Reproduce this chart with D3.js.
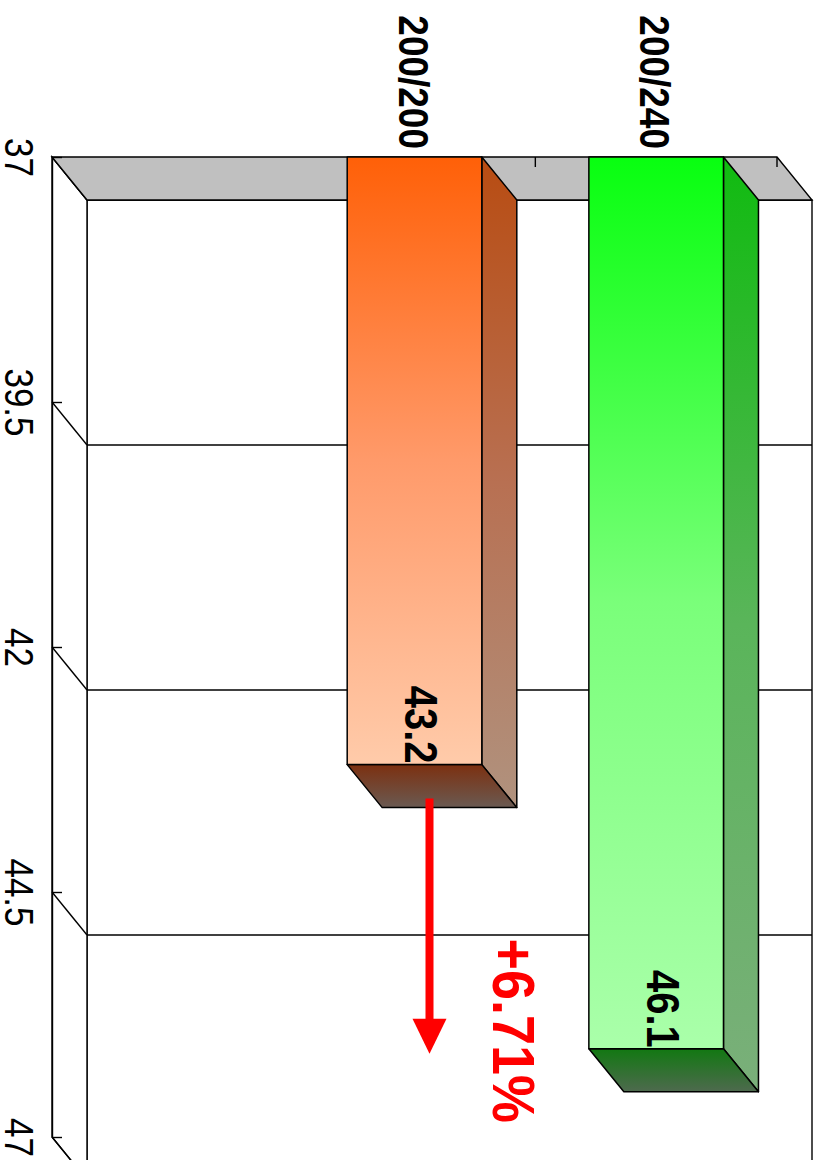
<!DOCTYPE html>
<html>
<head>
<meta charset="utf-8">
<script src="https://cdn.jsdelivr.net/npm/d3@7"></script>
<style>
  html, body { margin: 0; padding: 0; background: #fff; }
  svg { display: block; }
  text { font-family: "Liberation Sans", Arial, Helvetica, sans-serif; }
</style>
</head>
<body>
<svg id="chart" width="821" height="1160"></svg>
<script>
// Data
const categories = ["", "200/200", "200/240"];
const values = [null, 43.2, 46.1];
const valueTicks = [37, 39.5, 42, 44.5, 47];
const valueDomain = [37, 47];

// Bar palettes: [front top, front mid, front bottom], [side top, side mid, side bottom], [cap near, cap far]
const palettes = [
  null,
  { front: ["#ff6008", "#ff9a6a", "#ffcbaa"], side: ["#b84c12", "#b87052", "#b0927e"], cap: ["#7c3010", "#6a5a52"] },
  { front: ["#08ff10", "#7aff7a", "#aaffaa"], side: ["#10bb10", "#5ab55a", "#7aaf7a"], cap: ["#127812", "#4e6a4e"] }
];

const svg = d3.select("#chart");
const defs = svg.append("defs");

// Oblique depth of the 3D frame
const dx = 35, dy = 43;

const y = d3.scaleLinear().domain(valueDomain).range([157, 1137]);
const x = d3.scaleBand().domain(categories).range([52, 777]);
const barW = x.bandwidth() * 0.557;

const xL = x.range()[0], xR = x.range()[1];
const yTop = y(valueDomain[0]), yBot = y(valueDomain[1]);

const frame = svg.append("g").attr("fill", "none").attr("stroke", "#000").attr("stroke-width", 1.4);

// Back wall
frame.append("rect")
  .attr("x", xL + dx).attr("y", yTop + dy)
  .attr("width", xR - xL).attr("height", yBot - yTop + 10)
  .attr("fill", "#fff");

// Side wall
frame.append("polygon")
  .attr("points", [[xL, yTop], [xL + dx, yTop + dy], [xL + dx, yBot + dy], [xL, yBot]].join(" "))
  .attr("fill", "#fff");

// Gridlines on the back wall and diagonals on the side wall
frame.selectAll("line.grid").data(valueTicks).join("line")
  .attr("class", "grid")
  .attr("x1", xL + dx).attr("x2", xR + dx)
  .attr("y1", d => y(d) + dy).attr("y2", d => y(d) + dy);
frame.selectAll("line.diag").data(valueTicks).join("line")
  .attr("class", "diag")
  .attr("x1", xL).attr("x2", xL + dx)
  .attr("y1", d => y(d)).attr("y2", d => y(d) + dy);

// Base floor
frame.append("polygon")
  .attr("points", [[xL, yTop], [xR, yTop], [xR + dx, yTop + dy], [xL + dx, yTop + dy]].join(" "))
  .attr("fill", "#c0c0c0");

// Category ticks along the near floor edge
frame.selectAll("line.ctick").data(categories.filter(c => c !== "")).join("line")
  .attr("class", "ctick")
  .attr("x1", d => x(d) + x.bandwidth()).attr("x2", d => x(d) + x.bandwidth())
  .attr("y1", yTop).attr("y2", yTop + 10);

// Value axis
const axis = svg.append("g")
  .attr("transform", `translate(${xL},0)`)
  .call(d3.axisLeft(y).tickValues(valueTicks).tickSize(-10).tickSizeOuter(0).tickFormat(d3.format("")));
axis.select(".domain").attr("stroke", "#000").attr("stroke-width", 1.4);
axis.selectAll(".tick line").attr("stroke", "#000").attr("stroke-width", 1.4);
axis.selectAll(".tick text")
  .attr("x", null).attr("dy", null)
  .attr("fill", "#000")
  .attr("font-size", 35)
  .attr("text-anchor", "middle")
  .attr("transform", `translate(${5 - xL},0) rotate(90) scale(1,1.15)`);

// Gradients
function vGrad(id, stops) {
  const g = defs.append("linearGradient").attr("id", id)
    .attr("x1", 0).attr("y1", 0).attr("x2", 0).attr("y2", 1);
  stops.forEach((c, i) => g.append("stop").attr("offset", i / (stops.length - 1)).attr("stop-color", c));
}

const bars = categories.map((c, i) => ({ c, v: values[i], p: palettes[i], i })).filter(d => d.v != null);
bars.forEach(d => {
  vGrad(`front${d.i}`, d.p.front);
  vGrad(`side${d.i}`, d.p.side);
  vGrad(`cap${d.i}`, d.p.cap);
});

const barG = svg.append("g").attr("stroke", "#000").attr("stroke-width", 1.5).attr("stroke-linejoin", "round");
bars.forEach(d => {
  const cx = x(d.c) + x.bandwidth() / 2;
  const x0 = cx - barW / 2, x1 = cx + barW / 2;
  const y0 = y(valueDomain[0]), y1 = y(d.v);
  const g = barG.append("g");
  g.append("polygon")
    .attr("points", [[x1, y0], [x1 + dx, y0 + dy], [x1 + dx, y1 + dy], [x1, y1]].join(" "))
    .attr("fill", `url(#side${d.i})`);
  g.append("polygon")
    .attr("points", [[x0, y1], [x1, y1], [x1 + dx, y1 + dy], [x0 + dx, y1 + dy]].join(" "))
    .attr("fill", `url(#cap${d.i})`);
  g.append("rect")
    .attr("x", x0).attr("y", y0).attr("width", x1 - x0).attr("height", y1 - y0)
    .attr("fill", `url(#front${d.i})`);
});

// Value labels
svg.append("g").selectAll("text").data(bars).join("text")
  .attr("transform", d => `translate(${x(d.c) + x.bandwidth() / 2 - 9.5},${y(d.v) - 1}) rotate(90) scale(1,1.15)`)
  .attr("text-anchor", "end")
  .attr("font-size", 40)
  .attr("font-weight", "bold")
  .attr("fill", "#000")
  .text(d => d.v.toFixed(1));

// Category labels
svg.append("g").selectAll("text").data(categories.filter(c => c !== "")).join("text")
  .attr("transform", d => `translate(${x(d) + x.bandwidth() / 2 - 16},149) rotate(90) scale(1,1.17)`)
  .attr("text-anchor", "end")
  .attr("font-size", 37)
  .attr("font-weight", "bold")
  .attr("fill", "#000")
  .text(d => d);

// Change arrow between the two bars
const from = bars[0], to = bars[1];
const ax = x(from.c) + x.bandwidth() / 2 + 15;
const tipY = y(to.v) + 5;
const headL = 35, headW = 17;
svg.append("line")
  .attr("x1", ax).attr("x2", ax)
  .attr("y1", y(from.v) + 34).attr("y2", tipY - headL + 2)
  .attr("stroke", "#ff0000").attr("stroke-width", 8);
svg.append("polygon")
  .attr("points", [[ax - headW, tipY - headL], [ax + headW, tipY - headL], [ax, tipY]].join(" "))
  .attr("fill", "#ff0000");

const pct = (to.v / from.v - 1) * 100;
svg.append("text")
  .attr("transform", `translate(${ax + 63},${y(to.v) - 18}) rotate(90) scale(1,1.08)`)
  .attr("text-anchor", "middle")
  .attr("font-size", 54)
  .attr("font-weight", "bold")
  .attr("fill", "#ff0000")
  .text(`+${pct.toFixed(2)}%`);
</script>
</body>
</html>
